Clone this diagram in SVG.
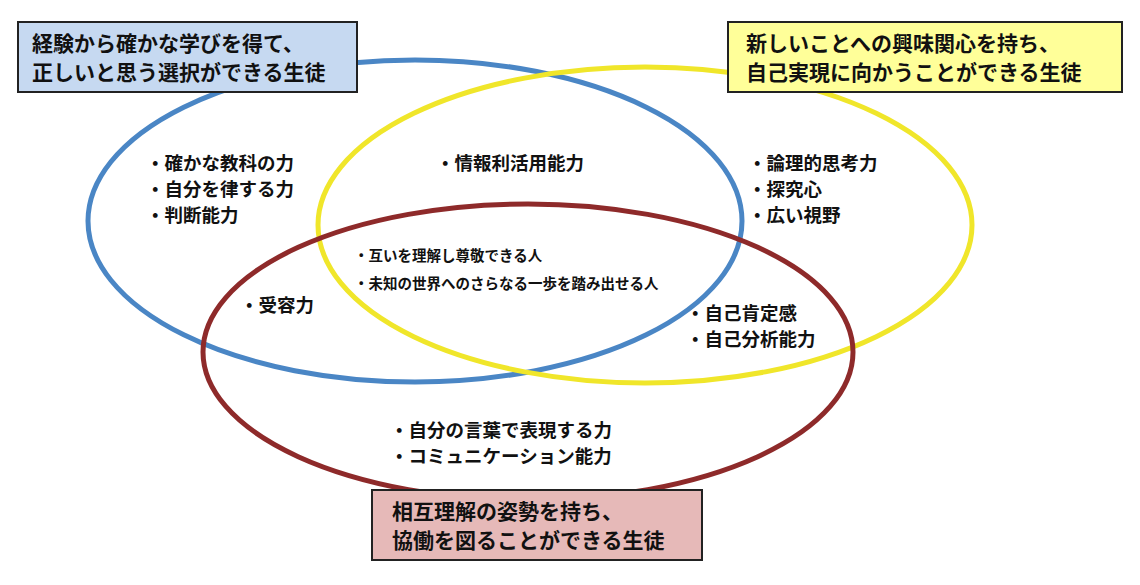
<svg xmlns="http://www.w3.org/2000/svg" width="1140" height="585" viewBox="0 0 1140 585">
<style>
text{font-family:"Noto Sans CJK JP","Noto Sans",sans-serif;font-weight:bold;fill:#111}
.t{font-size:18.5px}.s{font-size:14.5px}.b{font-size:21px}
.box{stroke:#222;stroke-width:2}
.e{fill:none;stroke-width:5}
</style>
<rect width="1140" height="585" fill="#fff"/>
<g id="connectors">
<ellipse id="blue" class="e" cx="415" cy="221" rx="327" ry="161" stroke="#4a86c5"/>
<ellipse id="yellow" class="e" cx="645" cy="225" rx="327" ry="158" stroke="#f0e62a"/>
<ellipse id="red" class="e" cx="528" cy="352" rx="325" ry="148" stroke="#8e2a2a"/>
</g>
<g id="box-blue"><rect class="box" x="18" y="22" width="339" height="70" fill="#c6d9f1"/>
<text class="b" x="32" y="51">経験から確かな学びを得て、</text><text class="b" x="32" y="80">正しいと思う選択ができる生徒</text></g>
<g id="box-yellow"><rect class="box" x="728" y="22" width="394" height="70" fill="#ffff99"/>
<text class="b" x="746" y="51">新しいことへの興味関心を持ち、</text><text class="b" x="746" y="80">自己実現に向かうことができる生徒</text></g>
<g id="box-red"><rect class="box" x="372" y="490" width="330" height="70" fill="#e6b9b8"/>
<text class="b" x="392" y="519">相互理解の姿勢を持ち、</text><text class="b" x="392" y="548">協働を図ることができる生徒</text></g>
<g id="blue-items"><text class="t" x="146" y="170">・確かな教科の力</text><text class="t" x="146" y="196">・自分を律する力</text><text class="t" x="146" y="222">・判断能力</text></g>
<g id="yellow-items"><text class="t" x="748" y="170">・論理的思考力</text><text class="t" x="748" y="196">・探究心</text><text class="t" x="748" y="222">・広い視野</text></g>
<g id="by"><text class="t" x="436" y="170">・情報利活用能力</text></g>
<g id="center"><text class="s" x="354" y="261">・互いを理解し尊敬できる人</text><text class="s" x="354" y="289">・未知の世界へのさらなる一歩を踏み出せる人</text></g>
<g id="br"><text class="t" x="240" y="312">・受容力</text></g>
<g id="yr"><text class="t" x="686" y="320">・自己肯定感</text><text class="t" x="686" y="346">・自己分析能力</text></g>
<g id="red-items"><text class="t" x="390" y="437">・自分の言葉で表現する力</text><text class="t" x="390" y="463">・コミュニケーション能力</text></g>
</svg>
